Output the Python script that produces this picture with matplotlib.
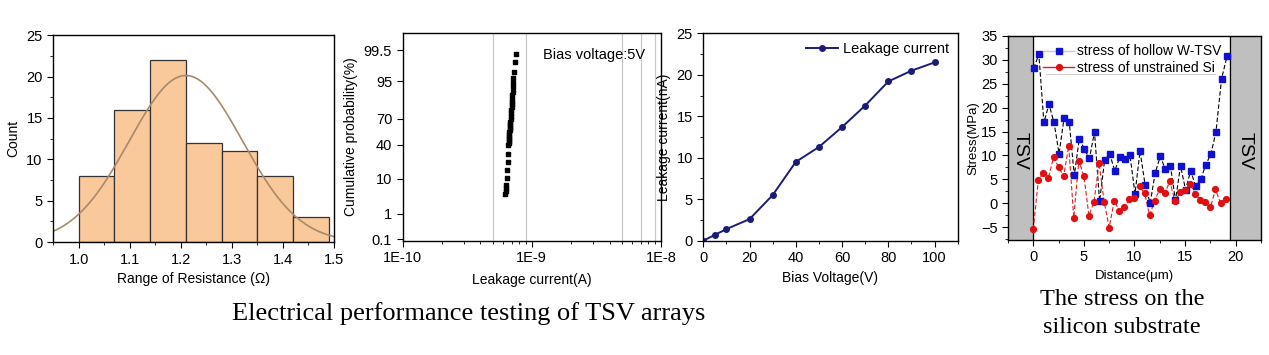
import numpy as np
import matplotlib.pyplot as plt
from matplotlib.lines import Line2D
from matplotlib.ticker import MultipleLocator, FixedLocator, NullFormatter
from statistics import NormalDist

plt.rcParams["font.family"] = ["Liberation Sans", "DejaVu Sans"]
plt.rcParams["font.size"] = 10

# histogram of resistance
bin_edges = [1.0, 1.07, 1.14, 1.21, 1.28, 1.35, 1.42, 1.49]
counts = [8, 16, 22, 12, 11, 8, 3]
fit_mean = 1.21
fit_sd = 0.111

# cumulative probability of leakage current at 5V
leak_a = [6.25e-10, 6.3e-10, 6.3e-10, 6.35e-10, 6.4e-10, 6.45e-10, 6.5e-10, 6.55e-10,
          6.6e-10, 6.62e-10, 6.65e-10, 6.67e-10, 6.68e-10, 6.7e-10, 6.72e-10, 6.73e-10,
          6.75e-10, 6.78e-10, 6.8e-10, 6.8e-10, 6.85e-10, 6.9e-10, 6.92e-10, 6.95e-10,
          6.98e-10, 7.0e-10, 7.02e-10, 7.05e-10, 7.08e-10, 7.1e-10, 7.12e-10, 7.15e-10,
          7.2e-10, 7.25e-10, 7.4e-10, 7.55e-10]
cum_prob = [4.2, 5.0, 6.0, 7.0, 10.4, 15.5, 22, 30,
            40, 42, 44.5, 47, 49.5, 52, 54.5, 57,
            59.5, 62, 64.5, 67, 70, 73, 76, 78.5,
            81, 83, 85, 87, 89, 91, 93, 94.5,
            96, 97.3, 98.7, 99.3]
grid_a = [5e-10, 9e-10, 5e-9, 7e-9, 9e-9]
prob_ticks = [0.1, 1, 10, 40, 70, 95, 99.5]

# leakage current vs bias voltage
bias_v = [0, 5, 10, 20, 30, 40, 50, 60, 70, 80, 90, 100]
leak_na = [0, 0.7, 1.4, 2.6, 5.5, 9.5, 11.3, 13.7, 16.3, 19.2, 20.5, 21.5]

# stress along silicon between TSVs
dist_w = [0.05, 0.55, 1.05, 1.55, 2.05, 2.55, 3.05, 3.55, 4.05, 4.55, 5.05, 5.55,
          6.05, 6.55, 7.05, 7.55, 8.05, 8.55, 9.05, 9.55, 10.05, 10.55, 11.05, 11.55,
          12.05, 12.55, 13.05, 13.55, 14.05, 14.55, 15.05, 15.55, 16.05, 16.55, 17.05,
          17.55, 18.05, 18.6, 19.15]
stress_w = [28.2, 31.2, 16.9, 20.7, 16.9, 10.4, 17.9, 17.1, 5.8, 13.5, 11.3, 9.4,
            14.9, 0.4, 9.0, 10.3, 6.8, 9.6, 9.2, 10.1, 2.0, 10.9, 3.8, 0.0,
            6.4, 9.8, 7.1, 7.8, 0.6, 7.8, 2.8, 6.8, 3.5, 5.0, 8.1,
            10.3, 14.9, 26.0, 30.8]
dist_si = [0, 0.5, 1.0, 1.5, 2.0, 2.5, 3.0, 3.5, 4.0, 4.5, 5.0, 5.5, 6.0, 6.5,
           7.0, 7.5, 8.0, 8.5, 9.0, 9.5, 10.0, 10.5, 11.0, 11.5, 12.0, 12.5, 13.0,
           13.5, 14.0, 14.5, 15.0, 15.5, 16.0, 16.5, 17.0, 17.5, 18.0, 18.5, 19.0]
stress_si = [-5.5, 4.8, 6.4, 5.3, 9.6, 7.6, 5.6, 12.0, -3.0, 8.9, 5.7, -2.6, 0.3, 8.4,
             0.35, -5.1, 0.5, -1.6, -0.9, 0.8, 1.0, 3.5, 2.1, -2.5, 0.5, 3.0, 2.1,
             4.6, 0.4, 2.3, 2.8, 4.0, 1.9, 0.7, 0.2, -0.9, 2.9, 0.0, 0.8]


def style_ticks(ax):
    ax.tick_params(which="both", direction="out", top=False, right=False, labelsize=10.5)
    ax.tick_params(which="major", length=4)
    ax.tick_params(which="minor", length=2)
    for s in ax.spines.values():
        s.set_linewidth(1.0)


fig = plt.figure(figsize=(12.69, 3.55), dpi=100)

# ---- panel 1: histogram
ax1 = fig.add_axes([0.0418, 0.318, 0.2214, 0.583])
ax1.bar(bin_edges[:-1], counts, width=np.diff(bin_edges), align="edge",
        color="#f9c89b", edgecolor="#333333", linewidth=0.9)
xs = np.linspace(0.95, 1.5, 300)
bw = bin_edges[1] - bin_edges[0]
fit = sum(counts) * bw / (fit_sd * np.sqrt(2 * np.pi)) * np.exp(-(xs - fit_mean) ** 2 / (2 * fit_sd ** 2))
ax1.plot(xs, fit, color="#a88a6a", lw=1.2)
ax1.set_xlim(0.95, 1.5)
ax1.set_ylim(0, 25)
ax1.xaxis.set_major_locator(MultipleLocator(0.1))
ax1.xaxis.set_minor_locator(MultipleLocator(0.05))
ax1.yaxis.set_major_locator(MultipleLocator(5))
ax1.yaxis.set_minor_locator(MultipleLocator(2.5))
ax1.set_xlabel("Range of Resistance (\u03a9)")
ax1.set_ylabel("Count")
style_ticks(ax1)

# ---- panel 2: probability plot
nd = NormalDist()
fwd = np.vectorize(lambda p: nd.inv_cdf(min(max(p / 100.0, 1e-9), 1 - 1e-9)), otypes=[float])
inv = np.vectorize(lambda z: nd.cdf(z) * 100.0, otypes=[float])

ax2 = fig.add_axes([0.3173, 0.322, 0.2035, 0.584])
ax2.set_xscale("log")
ax2.set_yscale("function", functions=(fwd, inv))
for g in grid_a:
    ax2.axvline(g, color="#c8c8c8", lw=0.9, zorder=0)
ax2.scatter(leak_a, cum_prob, marker="s", s=10, color="black", zorder=3)
ax2.set_xlim(1e-10, 1e-8)
ax2.set_ylim(0.085, 99.9)
ax2.yaxis.set_major_locator(FixedLocator(prob_ticks))
ax2.set_yticklabels(["0.1", "1", "10", "40", "70", "95", "99.5"])
ax2.yaxis.set_minor_formatter(NullFormatter())
ax2.set_xticks([1e-10, 1e-9, 1e-8])
ax2.set_xticklabels(["1E-10", "1E-9", "1E-8"])
ax2.set_xlabel("Leakage current(A)", labelpad=6)
ax2.set_ylabel("Cumulative probability(%)")
ax2.text(0.94, 0.93, "Bias voltage:5V", transform=ax2.transAxes, ha="right", va="top", fontsize=10.5)
style_ticks(ax2)
ax2.tick_params(axis="y", which="minor", left=False)

# ---- panel 3: leakage vs bias
ax3 = fig.add_axes([0.5542, 0.322, 0.2005, 0.584])
ax3.plot(bias_v, leak_na, color="#1c1c78", lw=1.4, marker="o", ms=4, label="Leakage current")
ax3.set_xlim(0, 110)
ax3.set_ylim(0, 25)
ax3.xaxis.set_major_locator(MultipleLocator(20))
ax3.xaxis.set_minor_locator(MultipleLocator(10))
ax3.yaxis.set_major_locator(MultipleLocator(5))
ax3.yaxis.set_minor_locator(MultipleLocator(2.5))
ax3.set_xlabel("Bias Voltage(V)")
ax3.set_ylabel("Leakage current(nA)")
ax3.legend(loc="upper right", frameon=False, fontsize=10.5, handlelength=2.2,
           borderaxespad=0.2, handletextpad=0.3)
style_ticks(ax3)

# ---- panel 4: stress
ax4 = fig.add_axes([0.7943, 0.324, 0.1994, 0.5746])
ax4.axvspan(-2.5, 0, color="#bfbfbf", zorder=0)
ax4.axvspan(19.4, 22.5, color="#bfbfbf", zorder=0)
ax4.axvline(0, color="black", lw=0.9, zorder=1)
ax4.axvline(19.4, color="black", lw=0.9, zorder=1)
ax4.plot(dist_w, stress_w, color="black", lw=0.8, ls=(0, (4, 2)), zorder=2)
ax4.plot(dist_w, stress_w, ls="none", marker="s", ms=4, color="#1010d0", zorder=3)
ax4.plot(dist_si, stress_si, color="#e02020", lw=0.8, ls=(0, (4, 2)), zorder=2)
ax4.plot(dist_si, stress_si, ls="none", marker="o", ms=4.2, color="#e01010", zorder=3)
ax4.text(-1.25, 11, "TSV", rotation=-90, ha="center", va="center", fontsize=14)
ax4.text(20.95, 11, "TSV", rotation=-90, ha="center", va="center", fontsize=14)
ax4.set_xlim(-2.5, 22.5)
ax4.set_ylim(-7.7, 35)
ax4.xaxis.set_major_locator(MultipleLocator(5))
ax4.xaxis.set_minor_locator(MultipleLocator(2.5))
ax4.yaxis.set_major_locator(MultipleLocator(5))
ax4.yaxis.set_minor_locator(MultipleLocator(2.5))
ax4.set_xlabel("Distance(\u03bcm)", fontsize=9.5)
ax4.set_ylabel("Stress(MPa)", fontsize=9.5, labelpad=1)
handles = [Line2D([], [], color="#c8c8d8", lw=1, marker="s", ms=4, mfc="#1010d0", mec="#1010d0"),
           Line2D([], [], color="#e02020", lw=1, marker="o", ms=4.2, mfc="#e01010", mec="#e01010")]
ax4.legend(handles, ["stress of hollow W-TSV", "stress of unstrained Si"], loc="upper left",
           bbox_to_anchor=(0.09, 1.02), frameon=False, fontsize=10, handlelength=2.2,
           handletextpad=0.2, labelspacing=0.15)
ax4.add_line(Line2D([0.15, 0.82], [0.815, 0.815], transform=ax4.transAxes, color="#d0d0d0", lw=0.8))
style_ticks(ax4)

# captions
fig.text(0.369, 0.118, "Electrical performance testing of TSV arrays", ha="center", va="center",
         family=["Liberation Serif"], fontsize=19)
fig.text(0.884, 0.118, "The stress on the\nsilicon substrate", ha="center", va="center",
         family=["Liberation Serif"], fontsize=17.5, linespacing=1.45)

fig.savefig("out.png", dpi=100)
